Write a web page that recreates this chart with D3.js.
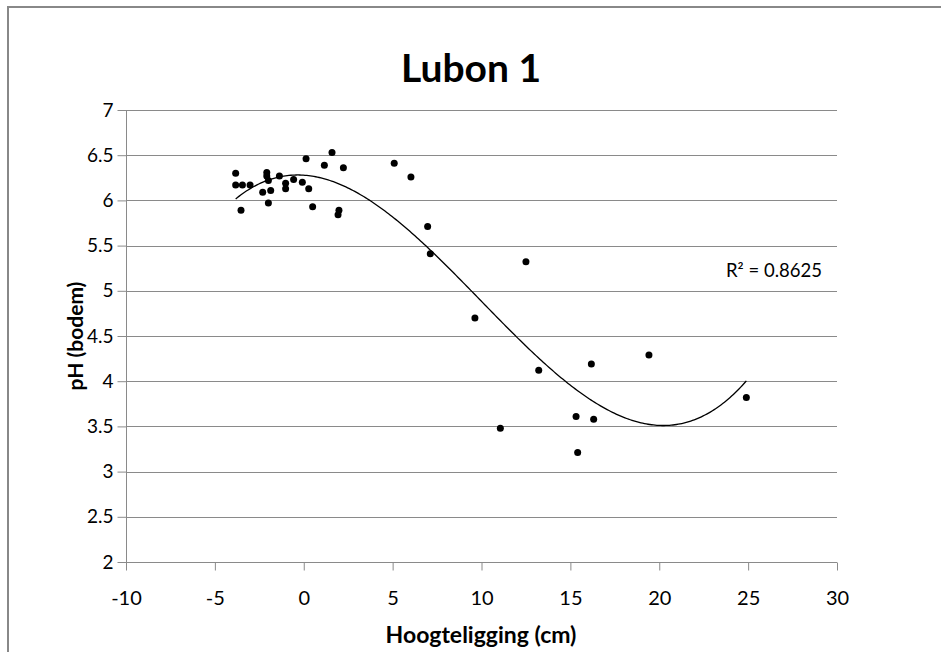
<!DOCTYPE html>
<html>
<head>
<meta charset="utf-8">
<script src="https://cdn.jsdelivr.net/npm/d3@7"></script>
<style>
  html, body { margin: 0; padding: 0; background: #fff; }
  svg { display: block; }
  text { font-family: Lato, "Open Sans", "Liberation Sans", sans-serif; fill: #000; }
</style>
</head>
<body>
<svg id="chart" width="941" height="652"></svg>
<script>
// ---- data ----
const chartTitle = "Lubon 1";
const xAxisTitle = "Hoogteligging (cm)";
const yAxisTitle = "pH (bodem)";
const r2Label = "R² = 0.8625";
const xTicks = [-10, -5, 0, 5, 10, 15, 20, 25, 30];
const yTicks = [2, 2.5, 3, 3.5, 4, 4.5, 5, 5.5, 6, 6.5, 7];
const hoogte = [-3.83, -3.83, -3.45, -3.02, -3.53, -2.08, -2.08, -1.99, -2.31, -1.86, -1.99, -1.37, -1.02, -1.02, -0.57, -0.08, 0.28, 0.13, 0.50, 1.16, 1.59, 2.23, 1.98, 1.93, 5.09, 6.03, 6.97, 7.12, 12.50, 9.63, 13.22, 16.18, 15.32, 16.31, 11.06, 15.41, 19.42, 24.90];
const phBodem = [6.30, 6.17, 6.17, 6.17, 5.89, 6.31, 6.27, 6.22, 6.09, 6.11, 5.97, 6.27, 6.19, 6.13, 6.23, 6.20, 6.13, 6.46, 5.93, 6.39, 6.53, 6.36, 5.89, 5.84, 6.41, 6.26, 5.71, 5.41, 5.32, 4.70, 4.12, 4.19, 3.61, 3.58, 3.48, 3.21, 4.29, 3.82];

// ---- cubic least-squares trendline (order 3, as in the original) ----
function polyFit(xs, ys, order) {
  const n = order + 1;
  const A = Array.from({length: n}, () => new Array(n + 1).fill(0));
  xs.forEach((x, k) => {
    for (let i = 0; i < n; i++) {
      for (let j = 0; j < n; j++) A[i][j] += Math.pow(x, i + j);
      A[i][n] += ys[k] * Math.pow(x, i);
    }
  });
  for (let c = 0; c < n; c++) {
    let p = c;
    for (let r = c + 1; r < n; r++) if (Math.abs(A[r][c]) > Math.abs(A[p][c])) p = r;
    [A[c], A[p]] = [A[p], A[c]];
    for (let r = 0; r < n; r++) {
      if (r === c) continue;
      const f = A[r][c] / A[c][c];
      for (let k = c; k <= n; k++) A[r][k] -= f * A[c][k];
    }
  }
  return A.map((row, i) => row[n] / row[i]);
}
const coef = polyFit(hoogte, phBodem, 3);
const trend = x => coef.reduce((s, c, i) => s + c * Math.pow(x, i), 0);

// ---- layout ----
const svg = d3.select("#chart");
const plot = {left: 126, right: 837, top: 110, bottom: 562};
const x = d3.scaleLinear().domain([-10, 30]).range([plot.left, plot.right]);
const y = d3.scaleLinear().domain([2, 7]).range([plot.bottom, plot.top]);
const fmt = d => String(d);

// outer chart border (only top and left are in view)
svg.append("path")
  .attr("d", "M8,652 L8,7 L941,7")
  .attr("fill", "none").attr("stroke", "#888").attr("stroke-width", 2);

// title
svg.append("text")
  .attr("x", 471).attr("y", 82)
  .attr("text-anchor", "middle")
  .attr("font-size", 39).attr("font-weight", "bold")
  .text(chartTitle);

// horizontal gridlines
svg.append("g").selectAll("line").data(yTicks.filter(d => d !== 2)).join("line")
  .attr("x1", plot.left).attr("x2", plot.right)
  .attr("y1", d => Math.round(y(d)) + 0.5).attr("y2", d => Math.round(y(d)) + 0.5)
  .attr("stroke", "#8a8a8a").attr("stroke-width", 1);

// y axis
const yAxis = svg.append("g")
  .attr("transform", `translate(${plot.left + 0.5},0)`)
  .call(d3.axisLeft(y).tickValues(yTicks).tickSize(9).tickPadding(4).tickFormat(fmt));
yAxis.select(".domain").attr("stroke", "#8a8a8a").attr("d", `M0,${plot.top}V${plot.bottom + 0.5}`);
yAxis.selectAll(".tick line").attr("stroke", "#8a8a8a");
yAxis.selectAll(".tick text").attr("font-size", 19).attr("font-family", "Lato, sans-serif").attr("fill", "#000");

// x axis
const xAxis = svg.append("g")
  .attr("transform", `translate(0,${Math.round(plot.bottom) + 0.5})`)
  .call(d3.axisBottom(x).tickValues(xTicks).tickSize(8).tickPadding(20).tickFormat(fmt));
xAxis.select(".domain").attr("stroke", "#8a8a8a").attr("d", `M${plot.left},0H${plot.right}`);
xAxis.selectAll(".tick line").attr("stroke", "#8a8a8a");
xAxis.selectAll(".tick text").attr("font-size", 20).attr("font-family", "Lato, sans-serif").attr("fill", "#000");

// axis titles
svg.append("text")
  .attr("x", 481).attr("y", 643)
  .attr("text-anchor", "middle").attr("font-size", 23).attr("font-weight", "bold")
  .text(xAxisTitle);
svg.append("text")
  .attr("transform", `translate(83,${(plot.top + plot.bottom) / 2}) rotate(-90)`)
  .attr("text-anchor", "middle").attr("font-size", 21).attr("font-weight", "bold")
  .text(yAxisTitle);

// trendline
const xs = d3.range(d3.min(hoogte), d3.max(hoogte), 0.1).concat([d3.max(hoogte)]);
svg.append("path")
  .datum(xs)
  .attr("fill", "none").attr("stroke", "#000").attr("stroke-width", 1.3)
  .attr("d", d3.line().x(d => x(d)).y(d => y(trend(d))));

// points
svg.append("g").selectAll("circle").data(hoogte.map((h, i) => [h, phBodem[i]])).join("circle")
  .attr("cx", d => x(d[0])).attr("cy", d => y(d[1])).attr("r", 3.5).attr("fill", "#000");

// R² label
svg.append("text")
  .attr("x", 726).attr("y", 277)
  .attr("font-size", 18.5)
  .text(r2Label);
</script>
</body>
</html>
